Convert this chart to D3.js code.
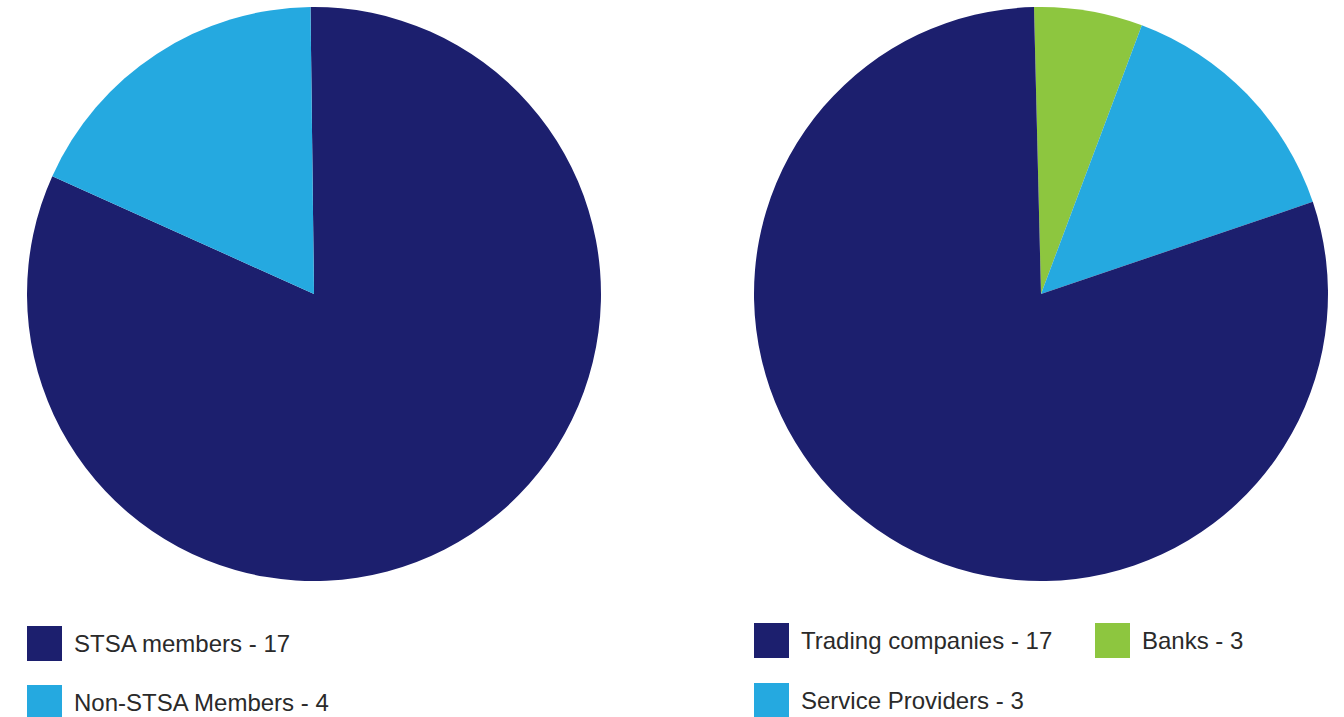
<!DOCTYPE html>
<html>
<head>
<meta charset="utf-8">
<script src="https://cdn.jsdelivr.net/npm/d3@7"></script>
<style>
  html, body { margin: 0; padding: 0; background: #ffffff; }
  svg { display: block; }
  text { font-family: "Liberation Sans", Arial, Helvetica, sans-serif; fill: #2a2a2a; }
</style>
</head>
<body>
<svg id="chart" width="1344" height="717"></svg>
<script>
// ---- data ----
// Left pie: members
const leftCategories = ["STSA members", "Non-STSA Members"];
const leftCounts = [17, 4];                 // numbers shown in the legend
const leftSliceValues = [17, 3.75];         // slice sizes as drawn in the picture
const leftColors = ["#1c1f6e", "#25a9e0"];

// Right pie: company types (drawn clockwise from top: Banks, Service Providers, Trading companies)
const rightCategories = ["Trading companies", "Banks", "Service Providers"];
const rightCounts = [17, 3, 3];
const rightSliceValues = [17, 1.3, 3];
const rightColors = ["#1c1f6e", "#8dc63f", "#25a9e0"];
const rightDrawOrder = ["Banks", "Service Providers", "Trading companies"];

const svg = d3.select("#chart");

function drawPie(cx, cy, r, startDeg, cats, values, colors, order) {
  const data = cats.map((c, i) => ({ cat: c, value: values[i], color: colors[i] }));
  const ordered = order ? order.map(o => data.find(d => d.cat === o)) : data;
  const start = startDeg * Math.PI / 180;
  const pie = d3.pie().sort(null).value(d => d.value)
    .startAngle(start).endAngle(start + 2 * Math.PI);
  const arc = d3.arc().innerRadius(0).outerRadius(r);
  const g = svg.append("g").attr("transform", `translate(${cx},${cy})`);
  g.selectAll("path").data(pie(ordered)).join("path")
    .attr("d", arc)
    .attr("fill", d => d.data.color);
}

function drawLegend(items) {
  const g = svg.append("g");
  items.forEach(it => {
    g.append("rect").attr("x", it.x).attr("y", it.y).attr("width", 35).attr("height", 35)
      .attr("fill", it.color);
    g.append("text").attr("x", it.x + 47).attr("y", it.y + 26)
      .style("font-size", "24px").text(it.label);
  });
}

drawPie(314, 294, 287, -0.7, leftCategories, leftSliceValues, leftColors, null);
drawPie(1041, 294, 287, -1.4, rightCategories, rightSliceValues, rightColors, rightDrawOrder);

drawLegend([
  { x: 27, y: 626, color: leftColors[0], label: `${leftCategories[0]} - ${leftCounts[0]}` },
  { x: 27, y: 685, color: leftColors[1], label: `${leftCategories[1]} - ${leftCounts[1]}` },
  { x: 754, y: 623, color: rightColors[0], label: `${rightCategories[0]} - ${rightCounts[0]}` },
  { x: 1095, y: 623, color: rightColors[1], label: `${rightCategories[1]} - ${rightCounts[1]}` },
  { x: 754, y: 683, color: rightColors[2], label: `${rightCategories[2]} - ${rightCounts[2]}` }
]);
</script>
</body>
</html>
